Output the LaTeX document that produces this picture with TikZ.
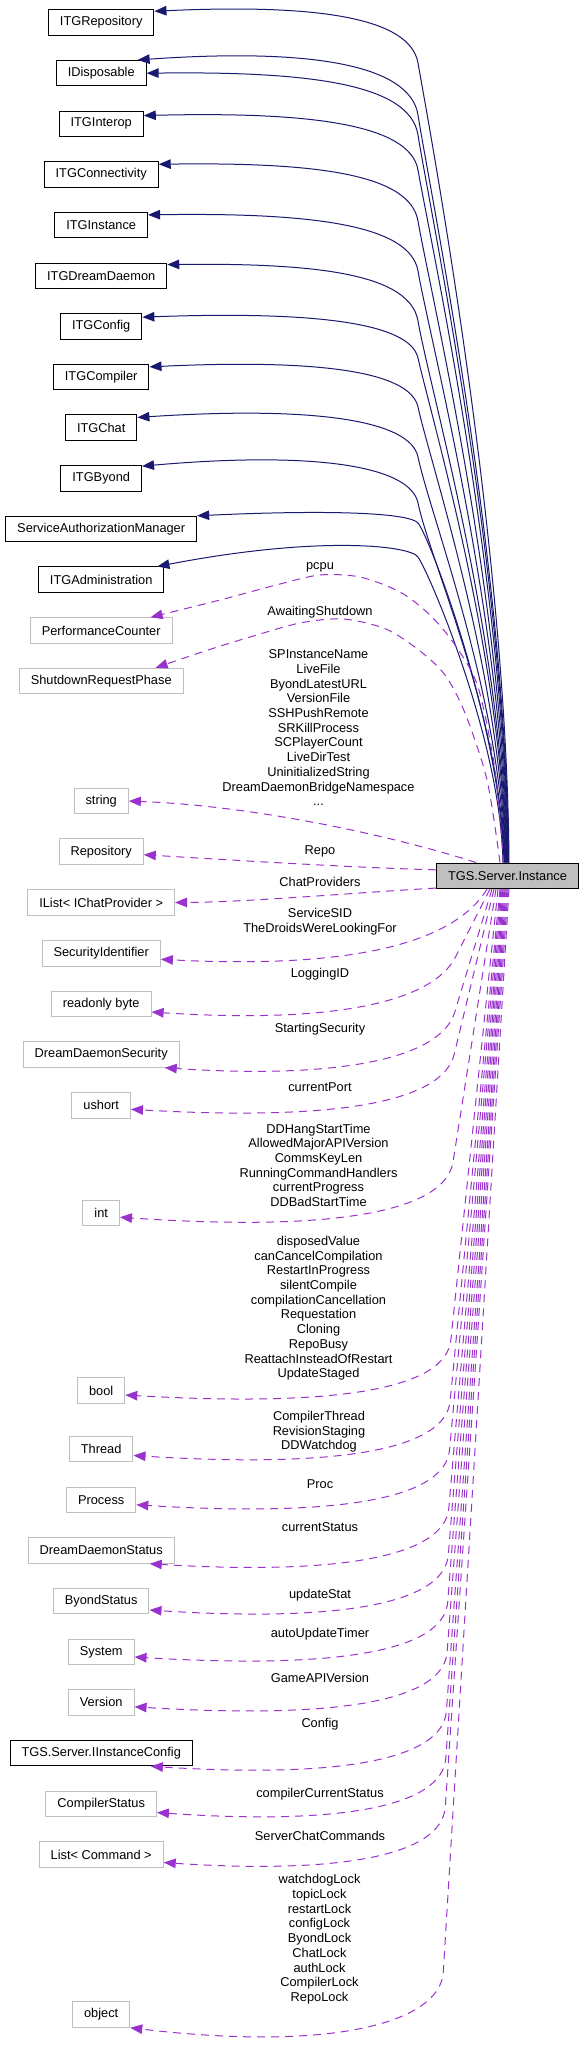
\documentclass[tikz,border=0pt]{standalone}
\usepackage{fontspec}
\setmainfont{Liberation Sans}
\usetikzlibrary{arrows.meta}
\definecolor{inhblue}{HTML}{191970}
\definecolor{usepurple}{HTML}{9A32CD}
\definecolor{boxgray}{HTML}{BFBFBF}
% inheritance edge: #1 start x, #2 peak y, #3 bend y, #4 end x, #5 end y, #6 end point
\newcommand\inhedge[6]{%
  \pgfmathsetmacro\bH{#3-#2}%
  \pgfmathsetmacro\bCAy{863.3-0.4*(863.3-#3)}%
  \pgfmathsetmacro\bCBy{#3+1.2*\bH}%
  \pgfmathsetmacro\bCCy{#2+0.2*\bH}%
  \pgfmathsetmacro\bMx{(418+#4)/2+30}%
  \pgfmathsetmacro\bCDy{#2-0.3*(#5-#2)}%
  \pgfmathsetmacro\bSh{#1-507.5}%
  \draw[inh] ([xshift=\bSh pt]tgs.north) .. controls (#1-2,\bCAy) and (430,\bCBy) .. (418,#3)
     .. controls (410,\bCCy) and (\bMx,\bCDy) .. #6;
}
% usage edge below: #1 start x, #2 end y, #3 dip, #4 end point
\newcommand\useedge[4]{%
  \pgfmathsetmacro\uAy{#2-55}%
  \pgfmathsetmacro\uAx{452-0.012*(#2-1300)}%
  \pgfmathsetmacro\uDx{\uAx-#1}%
  \pgfmathsetmacro\uDy{\uAy-888.3}%
  \pgfmathsetmacro\uLen{100*veclen(\uDx/100,\uDy/100)}%
  \pgfmathsetmacro\uUx{\uDx/\uLen}%
  \pgfmathsetmacro\uUy{\uDy/\uLen}%
  \pgfmathsetmacro\uPx{\uAx+50*\uUx}%
  \pgfmathsetmacro\uPy{\uAy+50*\uUy}%
  \pgfmathsetmacro\uQy{#2+#3}%
  \pgfmathsetmacro\uSh{#1-507.5}%
  \draw[use] ([xshift=\uSh pt]tgs.south) -- (\uAx,\uAy) .. controls (\uPx,\uPy) and (335,\uQy) .. #4;
}
\begin{document}
\begin{tikzpicture}[x=1pt,y=-1pt,
  every node/.style={font=\fontsize{12.8}{14.7}\selectfont},
  cls/.style={draw=black, line width=1pt, minimum height=25.5pt, inner xsep=11.5pt, inner ysep=0pt, fill=white},
  ext/.style={cls, draw=boxgray},
  mainbox/.style={cls, fill=boxgray},
  lbl/.style={align=center, inner sep=0pt},
  inh/.style={draw=inhblue, line width=1pt, -{Triangle[length=12pt,width=9.5pt]}},
  use/.style={draw=usepurple, line width=1pt, dash pattern=on 8pt off 6pt, -{Triangle[length=12pt,width=9.5pt]}},
]
\useasboundingbox (0,0) rectangle (584,2057);
\fill[white] (0,0) rectangle (584,2057);

% interface boxes
\node[cls] (irepo) at (101.2,22.5) {ITGRepository};
\node[cls] (idisp) at (101.2,73.2) {IDisposable};
\node[cls] (iinterop) at (101.2,123.8) {ITGInterop};
\node[cls] (iconn) at (101.2,174.5) {ITGConnectivity};
\node[cls] (iinst) at (101.2,225.1) {ITGInstance};
\node[cls] (idd) at (101.2,275.8) {ITGDreamDaemon};
\node[cls] (icfgi) at (101.2,326.4) {ITGConfig};
\node[cls] (icomp) at (101.2,377.1) {ITGCompiler};
\node[cls] (ichat) at (101.2,427.7) {ITGChat};
\node[cls] (ibyond) at (101.2,478.4) {ITGByond};
\node[cls] (isam) at (101.2,529.0) {ServiceAuthorizationManager};
\node[cls] (iadm) at (101.2,579.7) {ITGAdministration};

% member type boxes
\node[ext] (pc) at (101.2,630.5) {PerformanceCounter};
\node[ext] (srp) at (101.2,681) {ShutdownRequestPhase};
\node[ext] (str) at (101.2,801) {string};
\node[ext] (repo) at (101.2,851.7) {Repository};
\node[ext] (ilist) at (101.2,902.5) {IList< IChatProvider >};
\node[ext] (sid) at (101.2,953.3) {SecurityIdentifier};
\node[ext] (rb) at (101.2,1004) {readonly byte};
\node[ext] (dds) at (101.2,1054.5) {DreamDaemonSecurity};
\node[ext] (us) at (101.2,1105.3) {ushort};
\node[ext] (int) at (101.2,1213.2) {int};
\node[ext] (bool) at (101.2,1390.5) {bool};
\node[ext] (thr) at (101.2,1449) {Thread};
\node[ext] (proc) at (101.2,1499.8) {Process};
\node[ext] (ddst) at (101.2,1550.5) {DreamDaemonStatus};
\node[ext] (bst) at (101.2,1601) {ByondStatus};
\node[ext] (sys) at (101.2,1652) {System};
\node[ext] (ver) at (101.2,1702.3) {Version};
\node[cls] (icfg) at (101.2,1753) {TGS.Server.IInstanceConfig};
\node[ext] (cst) at (101.2,1804) {CompilerStatus};
\node[ext] (lcmd) at (101.2,1854.5) {List< Command >};
\node[ext] (obj) at (101.2,2014.5) {object};

\node[mainbox] (tgs) at (507.5,875.8) {TGS.Server.Instance};

% labels
\node[lbl] (lpcpu) at (320,567) {pcpu};
\node[lbl] (lawait) at (320,611.7) {AwaitingShutdown};
\node[lbl] (lstr) at (318.5,727.8) {SPInstanceName\\LiveFile\\ByondLatestURL\\VersionFile\\SSHPushRemote\\SRKillProcess\\SCPlayerCount\\LiveDirTest\\UninitializedString\\DreamDaemonBridgeNamespace\\...};
\node[lbl] (lrepo) at (320,851.7) {Repo};
\node[lbl] (lchat) at (320,882.3) {ChatProviders};
\node[lbl] (lsid) at (320,921.5) {ServiceSID\\TheDroidsWereLookingFor};
\node[lbl] (llog) at (320,974.3) {LoggingID};
\node[lbl] (lss) at (320,1028.7) {StartingSecurity};
\node[lbl] (lport) at (320,1087.3) {currentPort};
\node[lbl] (lint) at (318.5,1165.3) {DDHangStartTime\\AllowedMajorAPIVersion\\CommsKeyLen\\RunningCommandHandlers\\currentProgress\\DDBadStartTime};
\node[lbl] (lbool) at (318.5,1308.3) {disposedValue\\canCancelCompilation\\RestartInProgress\\silentCompile\\compilationCancellation\\Requestation\\Cloning\\RepoBusy\\ReattachInsteadOfRestart\\UpdateStaged};
\node[lbl] (lthr) at (319,1431.7) {CompilerThread\\RevisionStaging\\DDWatchdog};
\node[lbl] (lproc) at (320,1484.3) {Proc};
\node[lbl] (lcs) at (320,1527.3) {currentStatus};
\node[lbl] (lus) at (320,1594.7) {updateStat};
\node[lbl] (laut) at (320,1634.3) {autoUpdateTimer};
\node[lbl] (lgame) at (320,1678.3) {GameAPIVersion};
\node[lbl] (lcfg) at (320,1724.3) {Config};
\node[lbl] (lccs) at (320,1794.3) {compilerCurrentStatus};
\node[lbl] (lscc) at (320,1835.7) {ServerChatCommands};
\node[lbl] (lobj) at (319.5,1939.3) {watchdogLock\\topicLock\\restartLock\\configLock\\ByondLock\\ChatLock\\authLock\\CompilerLock\\RepoLock};

% inheritance edges
\inhedge{509}{5.7}{63}{153.7}{12}{([yshift=-2pt]irepo.north east)}
\inhedge{508.5}{51}{115}{137}{60.7}{([xshift=-9pt]idisp.north east)}
\inhedge{508}{71.7}{135}{146}{73.3}{(idisp.east)}
\inhedge{507.5}{112.7}{170}{142.5}{116.7}{([yshift=-5pt]iinterop.north east)}
\inhedge{507}{162.7}{221}{158}{164.7}{([yshift=-3pt]iconn.north east)}
\inhedge{506.5}{213.3}{271}{147.4}{216}{([yshift=-3pt]iinst.north east)}
\inhedge{506}{263.3}{321}{165.7}{265}{([yshift=-2pt]idd.north east)}
\inhedge{505.5}{312.7}{358}{141}{318}{([yshift=-4pt]icfgi.north east)}
\inhedge{505}{361}{407}{148.5}{367}{([yshift=-3pt]icomp.north east)}
\inhedge{504.5}{409}{457}{136}{418}{([yshift=-3pt]ichat.north east)}
\inhedge{504}{455}{503}{141}{467}{([yshift=-1pt]ibyond.north east)}
\inhedge{503.5}{511}{523}{197.2}{516.7}{(isam.north east)}
\inhedge{503}{542.3}{557}{157.5}{565}{([xshift=-7pt]iadm.north east)}

% usage edges above / left
\coordinate (pcS) at ([xshift=-4pt]tgs.north);
\coordinate (pcE) at ([xshift=-22pt]pc.north east);
\draw[use] plot[smooth] coordinates {(pcS) (495,770) (478,687) (455,645) (430,615) (400,592) (360,577) (320,575) (280,584) (220,600) (pcE)};
\coordinate (awS) at ([xshift=-7.5pt]tgs.north);
\coordinate (awE) at ([xshift=-28pt]srp.north east);
\draw[use] plot[smooth] coordinates {(awS) (487,780) (465,713) (445,675) (420,651) (386,629) (343,619) (300,623) (250,637) (205,651) (awE)};
\draw[use] ([xshift=40pt]tgs.north west) .. controls (400,838) and (260,806) .. (str.east);
\draw[use] ([yshift=6pt]tgs.west) .. controls (360,868) and (230,860) .. ([yshift=-3pt]repo.east);
\draw[use] ([yshift=1pt]tgs.south west) .. controls (350,893) and (250,902) .. (ilist.east);
\draw[use] ([xshift=-20.5pt]tgs.south) .. controls (450,950) and (330,968) .. ([yshift=-6pt]sid.east);

% usage edges below
\useedge{490}{1012}{12}{([yshift=-8pt]rb.east)}
\useedge{492}{1067}{12}{([xshift=-15pt]dds.south east)}
\useedge{494}{1109}{12}{([yshift=-4pt]us.east)}
\useedge{496}{1217}{15}{([yshift=-4pt]int.east)}
\useedge{498}{1395}{12}{([yshift=-4.5pt]bool.east)}
\useedge{500}{1456}{12}{([yshift=-6.5pt]thr.east)}
\useedge{501}{1505}{12}{([yshift=-5pt]proc.east)}
\useedge{502}{1563}{12}{([xshift=-25pt]ddst.south east)}
\useedge{503}{1610}{12}{([yshift=-9pt]bst.east)}
\useedge{504}{1657}{12}{([yshift=-5pt]sys.east)}
\useedge{505}{1707}{12}{([yshift=-4.5pt]ver.east)}
\useedge{506}{1766}{12}{([xshift=-42pt]icfg.south east)}
\useedge{507}{1813}{12}{([yshift=-8.5pt]cst.east)}
\useedge{508}{1862}{12}{([yshift=-8pt]lcmd.east)}
\useedge{509}{2027}{25}{(obj.south east)}
\end{tikzpicture}
\end{document}
